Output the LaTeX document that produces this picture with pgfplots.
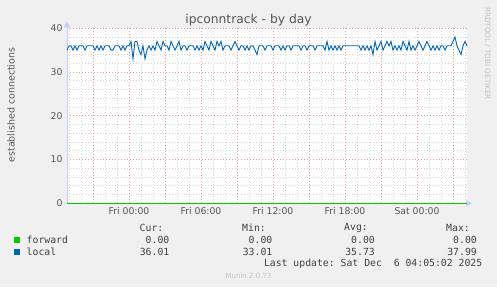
\documentclass[border=0pt]{standalone}
\usepackage{fontspec}
\setmainfont{DejaVu Sans}
\setmonofont{DejaVu Sans Mono}
\usepackage{pgfplots}
\usepackage{pgfplotstable}
\pgfplotsset{compat=1.18}
\usetikzlibrary{arrows.meta}
\definecolor{bg}{HTML}{F0F0F0}
\definecolor{munblue}{HTML}{0066B3}
\definecolor{mungreen}{HTML}{00CC00}
\definecolor{majgrid}{HTML}{E8A0A0}
\definecolor{mingrid}{HTML}{D4D4D4}
\definecolor{axcol}{HTML}{C8CCF8}
\definecolor{txt}{HTML}{555555}
\definecolor{legtxt}{HTML}{404040}
\definecolor{faint}{HTML}{C4C4C4}

% local: one value every 10 minutes, first point = Thu 18:50
\pgfplotstableread{
y
35
36
36
35
36
35
36
36
36
35
36
36
36
36
35
36
35
36
35
36
36
36
35
35
36
36
36
35
36
35
36
36
37
33
37
37
35
34
36
33
35
36
35
36
35
37
36
35
37
36
36
35
37
36
35
36
37
35
36
36
35
36
36
36
35
36
35
36
35
37
36
35
37
36
35
37
36
37
35
36
36
36
35
36
37
36
35
36
36
35
36
35
36
36
35
34
36
36
36
35
36
36
36
35
36
36
36
35
36
35
36
36
35
36
36
36
36
35
36
36
35
36
36
36
35
36
36
36
36
35
37
35
36
35
36
35
36
35
36
36
36
36
36
36
36
36
36
35
36
35
36
35
36
34
37
35
36
37
35
36
37
36
37
35
36
35
36
35
37
36
35
37
35
36
35
36
37
36
35
36
37
36
35
36
35
36
35
36
36
35
36
36
36
37
38
36
35
34
36
37
36
}\localdata

\begin{document}
\begin{tikzpicture}[x=1pt,y=1pt]
\path[use as bounding box, fill=bg] (0,0) rectangle (497,287);
\begin{axis}[
  at={(67pt,83.7pt)}, anchor=south west,
  scale only axis, width=400pt, height=175pt,
  xmin=-31, xmax=169, ymin=0, ymax=40,
  clip=false,
  axis background/.style={fill=white},
  axis line style={draw=none},
  major tick length=0pt, minor tick length=0pt,
  xtick={-18,0,18,36,54,72,90,108,126,144,162},
  xticklabels={,Fri 00:00,,Fri 06:00,,Fri 12:00,,Fri 18:00,,Sat 00:00,},
  minor xtick={-30,-24,...,168},
  ytick={0,10,20,30,40},
  minor ytick={2,4,...,38},
  grid=both,
  major grid style={majgrid, line width=0.7pt, dash pattern=on 1pt off 2pt},
  minor grid style={mingrid, line width=0.7pt, dash pattern=on 1pt off 2pt},
  /pgf/number format/assume math mode=true,
  ticklabel style={font=\fontsize{9.3}{11}\selectfont, text=txt},
  xticklabel style={yshift=-1pt},
  yticklabel style={xshift=-1pt},
]
\draw[axcol, line width=0.8pt, -{Triangle[width=6pt,length=6pt]}] (axis cs:-31,0) -- ([yshift=7pt]axis cs:-31,40);
\draw[axcol, line width=0.8pt, -{Triangle[width=6pt,length=6pt]}] (axis cs:-31,0) -- ([xshift=5pt]axis cs:169,0);
\addplot[mungreen, line width=0.9pt, no marks] coordinates {(-31,0) (169,0)};
\addplot[munblue, line width=0.9pt, no marks] table[x expr=\coordindex-31, y=y] {\localdata};
\end{axis}
% title and side texts
\node[text=txt, font=\fontsize{12.3}{14}\selectfont] at (248.5,266.7) {ipconntrack - by day};
\node[text=txt, rotate=90, font=\fontsize{9.5}{11}\selectfont] at (11,182) {established connections};
\node[text=faint, rotate=-90, anchor=west, inner sep=0pt, font=\fontsize{7.2}{8}\selectfont] at (487.5,280) {RRDTOOL / TOBI OETIKER};
% legend
\fill[mungreen] (14,44) rectangle (20,50);
\fill[munblue] (14,32) rectangle (20,38);
\begin{scope}[every node/.style={inner sep=0pt, text=legtxt, font=\ttfamily\fontsize{9.8}{11}\selectfont}]
\node[anchor=west] at (26.5,47) {forward};
\node[anchor=west] at (26.5,35) {local};
\node[anchor=east] at (163.5,59.3) {Cur:};
\node[anchor=east] at (266,59.3) {Min:};
\node[anchor=east] at (368,59.3) {Avg:};
\node[anchor=east] at (470,59.3) {Max:};
\node[anchor=east] at (169.5,47) {0.00};
\node[anchor=east] at (272.5,47) {0.00};
\node[anchor=east] at (375,47) {0.00};
\node[anchor=east] at (477,47) {0.00};
\node[anchor=east] at (169.5,35) {36.01};
\node[anchor=east] at (272.5,35) {33.01};
\node[anchor=east] at (375,35) {35.73};
\node[anchor=east] at (477,35) {37.99};
\node[anchor=east] at (482.5,23.7) {Last update: Sat Dec\ \ 6 04:05:02 2025};
\end{scope}
\node[text=faint, font=\fontsize{7}{8}\selectfont] at (248.5,11) {Munin 2.0.73};
\end{tikzpicture}
\end{document}
